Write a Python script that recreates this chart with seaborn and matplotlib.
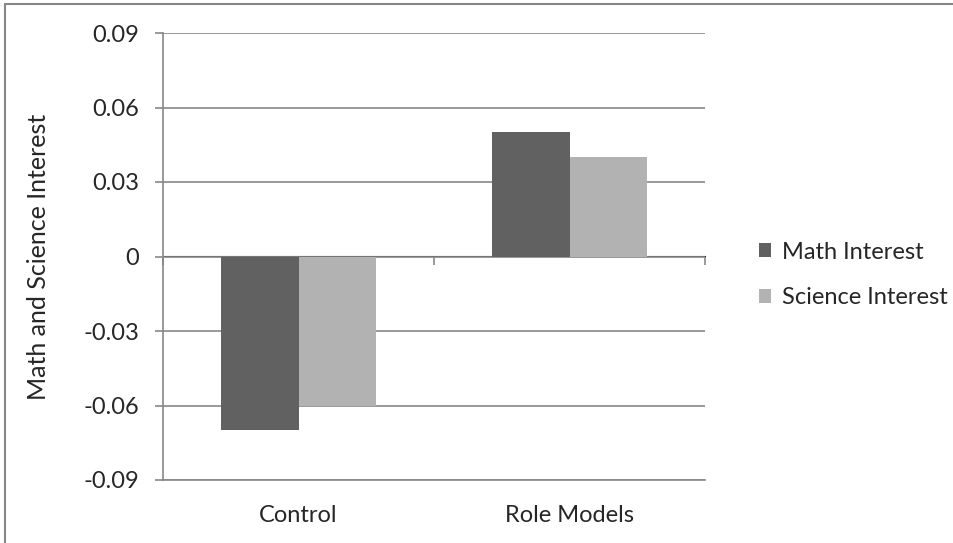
import matplotlib
matplotlib.use("Agg")
import matplotlib.pyplot as plt
import seaborn as sns
import pandas as pd
from matplotlib.patches import Rectangle, Patch

# Group means by condition
conditions = ["Control", "Role Models"]
series_names = ["Math Interest", "Science Interest"]
math_interest = [-0.07, 0.05]
science_interest = [-0.06, 0.04]
y_ticks = [-0.09, -0.06, -0.03, 0, 0.03, 0.06, 0.09]
y_tick_labels = ["-0.09", "-0.06", "-0.03", "0", "0.03", "0.06", "0.09"]
colors = ["#616161", "#b2b2b2"]

df = pd.DataFrame({
    "Condition": conditions * 2,
    "Series": [series_names[0]] * 2 + [series_names[1]] * 2,
    "Value": math_interest + science_interest,
})

sns.set_style("white")
plt.rcParams["font.family"] = ["Lato", "DejaVu Sans"]

W, H = 954, 543
fig = plt.figure(figsize=(W / 100, H / 100), dpi=100)
ax = fig.add_axes([163 / W, 1 - 480 / H, (705 - 163) / W, (480 - 33) / H])

grid_col = "#878787"
fs = 17

sns.barplot(data=df, x="Condition", y="Value", hue="Series", order=conditions,
            hue_order=series_names, palette=colors, width=0.57,
            saturation=1, edgecolor="none", linewidth=0, ax=ax, legend=False)

ax.set_xlim(-0.5, 1.5)
ax.set_ylim(-0.09, 0.09)
ax.set_yticks(y_ticks)
ax.set_yticklabels(y_tick_labels, fontsize=fs)
ax.yaxis.grid(True, color=grid_col, linewidth=1.2)
ax.set_axisbelow(True)
ax.tick_params(axis="y", direction="out", length=6, width=1.2, color=grid_col, pad=11, left=True)
ax.set_ylabel("Math and Science Interest", fontsize=fs + 1)
ax.yaxis.set_label_coords((50 - 163) / (705 - 163), 0.5)
ax.set_xlabel("")

ax.tick_params(axis="x", length=0, pad=18, labelsize=fs)
for s in ["top", "right"]:
    ax.spines[s].set_visible(False)
ax.spines["left"].set_color(grid_col)
ax.spines["left"].set_linewidth(1.2)
ax.spines["bottom"].set_color(grid_col)
ax.spines["bottom"].set_linewidth(1.2)

# Category axis crossing at zero (middle of the value range), ticks between categories
sec = ax.secondary_xaxis(0.5)
sec.xaxis.set_ticks_position("bottom")
sec.set_xticks([-0.5, 0.5, 1.5])
sec.set_xticklabels(["", "", ""])
sec.tick_params(direction="out", length=6, width=1.2, color=grid_col)
sec.spines["bottom"].set_color(grid_col)
sec.spines["bottom"].set_linewidth(1.5)

handles = [Patch(facecolor=c, edgecolor="none") for c in colors]
fig.legend(handles, series_names, loc="center left",
           bbox_to_anchor=(738 / W, 1 - 275 / H), frameon=False, fontsize=fs,
           handlelength=0.5, handleheight=0.5, handletextpad=0.45, labelspacing=1.05)

# Chart border
fig.patches.append(Rectangle((5.5 / W, -0.1), 1.2, 1 - 4.5 / H + 0.1,
                             transform=fig.transFigure, fill=False,
                             edgecolor=grid_col, linewidth=1.5))

fig.savefig("out.png", dpi=100)
